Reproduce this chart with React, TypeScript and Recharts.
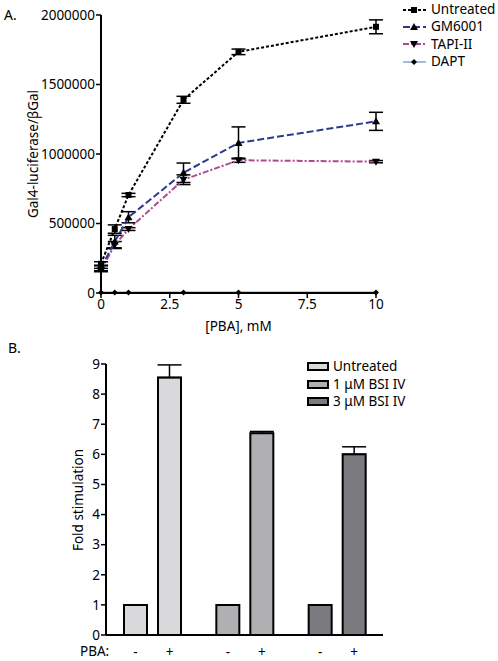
import React from 'react';
import {
  LineChart, Line, XAxis, YAxis, ErrorBar, BarChart, Bar, LabelList, Cell, Label,
} from 'recharts';

// ---------- Panel A data ----------
const pbaConc = [0, 0.5, 1, 3, 5, 10];
const untreatedVals = [210000, 460000, 705000, 1390000, 1735000, 1915000];
const untreatedErr = [15000, 30000, 12000, 25000, 20000, 50000];
const gmVals = [180000, 370000, 545000, 865000, 1080000, 1235000];
const gmErr = [20000, 45000, 40000, 70000, 115000, 65000];
const tapiVals = [165000, 345000, 460000, 815000, 955000, 945000];
const tapiErr = [12000, 25000, 10000, 35000, 15000, 8000];
const daptVals = [4000, 4000, 4000, 4000, 4000, 4000];
const daptErr = [0, 0, 0, 0, 0, 0];
const xTicksA = [0, 2.5, 5, 7.5, 10];
const yTicksA = [0, 500000, 1000000, 1500000, 2000000];

// ---------- Panel B data ----------
const treatments = ['Untreated', '1 \u03bcM BSI IV', '3 \u03bcM BSI IV'];
const minusPBA = [1, 1, 1];
const plusPBA = [8.55, 6.7, 6.0];
const plusErr = [0.42, 0.06, 0.25];
const yTicksB = [0, 1, 2, 3, 4, 5, 6, 7, 8, 9];

const lineData = pbaConc.map((x, i) => ({
  x,
  untreated: untreatedVals[i], untreatedErr: untreatedErr[i],
  gm: gmVals[i], gmErr: gmErr[i],
  tapi: tapiVals[i], tapiErr: tapiErr[i],
  dapt: daptVals[i], daptErr: daptErr[i],
}));

const barData = treatments.map((t, i) => ({
  name: t, minus: minusPBA[i], plus: plusPBA[i], plusErr: [0, plusErr[i]],
}));

const FONT = '"Noto Sans", sans-serif';
const barColors = ['#d9d9db', '#b0b0b3', '#7b7b7f'];
const C_UNT = '#000000';
const C_GM = '#2d3a8c';
const C_TAPI = '#b2468f';
const C_DAPT = '#a7bbdc';

const Square = (p: any) => p.cx == null ? null : (
  <rect key={p.key} x={p.cx - 3} y={p.cy - 3} width={6} height={6} fill="#000" />
);
const TriUp = (p: any) => p.cx == null ? null : (
  <path key={p.key} d={`M${p.cx},${p.cy - 4} L${p.cx + 4},${p.cy + 3} L${p.cx - 4},${p.cy + 3} Z`} fill="#000" />
);
const TriDown = (p: any) => p.cx == null ? null : (
  <path key={p.key} d={`M${p.cx},${p.cy + 4} L${p.cx + 4},${p.cy - 3} L${p.cx - 4},${p.cy - 3} Z`} fill="#000" />
);
const Diamond = (p: any) => p.cx == null ? null : (
  <path key={p.key} d={`M${p.cx},${p.cy - 3} L${p.cx + 3},${p.cy} L${p.cx},${p.cy + 3} L${p.cx - 3},${p.cy} Z`} fill="#000" />
);

const legendA = [
  { label: 'Untreated', color: C_UNT, dash: '3 2', marker: 'sq' },
  { label: 'GM6001', color: C_GM, dash: '7 3', marker: 'up' },
  { label: 'TAPI-II', color: C_TAPI, dash: '6 2 2 2', marker: 'down' },
  { label: 'DAPT', color: C_DAPT, dash: '', marker: 'dia' },
];

const LegendMarker = ({ m }: { m: string }) => {
  const cx = 12, cy = 6;
  if (m === 'sq') return <Square cx={cx} cy={cy} />;
  if (m === 'up') return <TriUp cx={cx} cy={cy} />;
  if (m === 'down') return <TriDown cx={cx} cy={cy} />;
  return <Diamond cx={cx} cy={cy} />;
};

const tickStyle = { fontSize: 13.5, fill: '#000', fontFamily: FONT };

export default function App() {
  return (
    <div style={{ position: 'fixed', left: 0, top: 0, width: 498, height: 661, background: '#fff', fontFamily: FONT, color: '#000' }}>
      <div style={{ position: 'absolute', left: 4, top: 5, fontSize: 14 }}>A.</div>
      <div style={{ position: 'absolute', left: 8, top: 338, fontSize: 14 }}>B.</div>

      <div style={{ position: 'absolute', left: 0, top: 330 }}>
        <BarChart width={498} height={331} data={barData} margin={{ top: 34, right: 115, left: 0, bottom: 0 }}
          barSize={23} barGap={11} barCategoryGap={17}>
          <XAxis dataKey="name" tick={false} tickLine={false} height={26}
            axisLine={{ stroke: '#000', strokeWidth: 2 }} />
          <YAxis type="number" domain={[0, 9]} ticks={yTicksB} width={106} interval={0}
            tick={tickStyle} tickSize={5} tickMargin={1}
            axisLine={{ stroke: '#000', strokeWidth: 2 }} tickLine={{ stroke: '#000', strokeWidth: 1.5 }}>
            <Label content={() => (
              <text x={78} y={170} transform="rotate(-90 78 170)" textAnchor="middle" dominantBaseline="central"
                style={{ fontSize: 13.5, fill: '#000', fontFamily: FONT }}>Fold stimulation</text>
            )} />
          </YAxis>
          <Bar dataKey="minus" stroke="#000" strokeWidth={2} isAnimationActive={false}>
            {barData.map((d, i) => <Cell key={d.name} fill={barColors[i]} />)}
            <LabelList dataKey="minus" content={(p: any) => (
              <text x={p.x + p.width / 2} y={p.y + p.height + 22} textAnchor="middle"
                style={{ fontSize: 13.5, fill: '#000', fontFamily: FONT }}>-</text>
            )} />
          </Bar>
          <Bar dataKey="plus" stroke="#000" strokeWidth={2} isAnimationActive={false}>
            {barData.map((d, i) => <Cell key={d.name} fill={barColors[i]} />)}
            <ErrorBar dataKey="plusErr" direction="y" width={12} stroke="#000" strokeWidth={1.5} />
            <LabelList dataKey="plus" content={(p: any) => (
              <text x={p.x + p.width / 2} y={p.y + p.height + 22} textAnchor="middle"
                style={{ fontSize: 13.5, fill: '#000', fontFamily: FONT }}>+</text>
            )} />
          </Bar>
        </BarChart>
      </div>

      <div style={{ position: 'absolute', left: 0, top: 0 }}>
        <LineChart width={498} height={340} data={lineData} margin={{ top: 15, right: 122, left: 0, bottom: 10 }}>
          <XAxis
            dataKey="x" type="number" domain={[0, 10]} ticks={xTicksA}
            tick={tickStyle} tickSize={5} tickMargin={1}
            axisLine={{ stroke: '#000', strokeWidth: 2 }} tickLine={{ stroke: '#000', strokeWidth: 1.5 }}
            height={37}
          >
            <Label value="[PBA], mM" position="insideBottom" offset={-1} style={{ fontSize: 13.5, fill: '#000', fontFamily: FONT }} />
          </XAxis>
          <YAxis
            type="number" domain={[0, 2000000]} ticks={yTicksA} width={101}
            tick={tickStyle} tickSize={5} tickMargin={1}
            axisLine={{ stroke: '#000', strokeWidth: 2 }} tickLine={{ stroke: '#000', strokeWidth: 1.5 }}
          >
            <Label content={() => (
              <text x={33} y={154} transform="rotate(-90 33 154)" textAnchor="middle" dominantBaseline="central"
                style={{ fontSize: 13.5, fill: '#000', fontFamily: FONT }}>Gal4-luciferase/βGal</text>
            )} />
          </YAxis>
          <Line dataKey="dapt" stroke={C_DAPT} strokeWidth={2.5} dot={Diamond} isAnimationActive={false}>
            <ErrorBar dataKey="daptErr" direction="y" width={7} stroke="#000" strokeWidth={1.5} />
          </Line>
          <Line dataKey="tapi" stroke={C_TAPI} strokeWidth={2} strokeDasharray="6 2 2 2" dot={TriDown} isAnimationActive={false}>
            <ErrorBar dataKey="tapiErr" direction="y" width={7} stroke="#000" strokeWidth={1.5} />
          </Line>
          <Line dataKey="gm" stroke={C_GM} strokeWidth={2} strokeDasharray="7 3" dot={TriUp} isAnimationActive={false}>
            <ErrorBar dataKey="gmErr" direction="y" width={7} stroke="#000" strokeWidth={1.5} />
          </Line>
          <Line dataKey="untreated" stroke={C_UNT} strokeWidth={2} strokeDasharray="3 2" dot={Square} isAnimationActive={false}>
            <ErrorBar dataKey="untreatedErr" direction="y" width={7} stroke="#000" strokeWidth={1.5} />
          </Line>
        </LineChart>
      </div>

      {/* Legend A */}
      <div style={{ position: 'absolute', left: 402, top: 1 }}>
        {legendA.map((l) => (
          <div key={l.label} style={{ display: 'flex', alignItems: 'center', height: 17.3 }}>
            <svg width={26} height={12} style={{ marginRight: 3 }}>
              <line x1={1} y1={6} x2={24} y2={6} stroke={l.color} strokeWidth={2} strokeDasharray={l.dash || undefined} />
              <LegendMarker m={l.marker} />
            </svg>
            <span style={{ fontSize: 13.5, lineHeight: '17px' }}>{l.label}</span>
          </div>
        ))}
      </div>

      <div style={{ position: 'absolute', left: 80, top: 642, fontSize: 13.5 }}>PBA:</div>

      {/* Legend B */}
      <div style={{ position: 'absolute', left: 307, top: 358 }}>
        {treatments.map((t, i) => (
          <div key={t} style={{ display: 'flex', alignItems: 'center', height: 17.5 }}>
            <div style={{ width: 18, height: 5, background: barColors[i], border: '2px solid #000', marginRight: 4 }} />
            <span style={{ fontSize: 13.5, lineHeight: '17px' }}>{t}</span>
          </div>
        ))}
      </div>
    </div>
  );
}
